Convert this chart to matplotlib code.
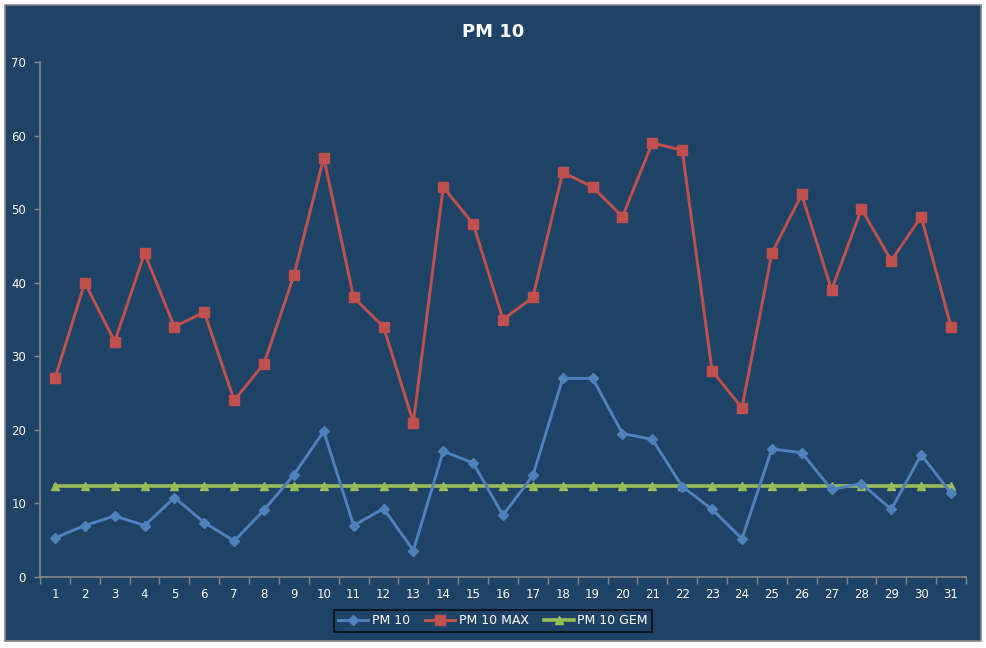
import matplotlib
matplotlib.use("Agg")
import matplotlib.pyplot as plt
from matplotlib.patches import Rectangle
from matplotlib.ticker import MultipleLocator, FixedLocator


days = list(range(1, 32))
pm10 = [5.3, 7.0, 8.3, 7.0, 10.8, 7.4, 4.9, 9.1, 13.9, 19.8,
        7.0, 9.3, 3.6, 17.1, 15.5, 8.4, 13.8, 27.0, 27.0, 19.5,
        18.7, 12.3, 9.2, 5.2, 17.4, 16.9, 11.9, 12.7, 9.2, 16.6, 11.4]
pm10_max = [27, 40, 32, 44, 34, 36, 24, 29, 41, 57,
            38, 34, 21, 53, 48, 35, 38, 55, 53, 49,
            59, 58, 28, 23, 44, 52, 39, 50, 43, 49, 34]
pm10_gem = [12.4] * 31

bg = "#1f4366"
axis_grey = "#868686"

fig = plt.figure(figsize=(9.87, 6.48), dpi=100)
fig.patch.set_facecolor("white")
# dark chart area with a grey border, behind the axes
frame = Rectangle((5 / 987, 7 / 648), 976 / 987, 636 / 648,
                  transform=fig.transFigure, facecolor=bg,
                  edgecolor=axis_grey, linewidth=1.2, zorder=-10)
fig.add_artist(frame)

ax = fig.add_axes([40 / 987, 1 - 577 / 648, 926 / 987, 515 / 648])
ax.set_facecolor(bg)
ax.set_zorder(1)

ax.plot(days, pm10, color="#4f81bd", linewidth=2.1, marker="D", markersize=5,
        label="PM 10", zorder=3)
ax.plot(days, pm10_max, color="#c0504d", linewidth=2.1, marker="s", markersize=7,
        label="PM 10 MAX", zorder=3)
ax.plot(days, pm10_gem, color="#9bbb59", linewidth=2.6, marker="^", markersize=6,
        label="PM 10 GEM", zorder=2)

ax.set_xlim(0.5, 31.5)
ax.set_ylim(0, 70)
ax.yaxis.set_major_locator(MultipleLocator(10))
ax.xaxis.set_major_locator(FixedLocator(days))
ax.xaxis.set_minor_locator(FixedLocator([d + 0.5 for d in range(0, 32)]))

for side in ["top", "right"]:
    ax.spines[side].set_visible(False)
for side in ["left", "bottom"]:
    ax.spines[side].set_color(axis_grey)
    ax.spines[side].set_linewidth(1.2)

ax.tick_params(axis="x", which="major", length=0, pad=8, labelsize=8.5, labelcolor="white")
ax.tick_params(axis="x", which="minor", length=5, color=axis_grey, width=1)
ax.tick_params(axis="y", which="major", length=4, color=axis_grey, width=1,
               pad=6, labelsize=8.5, labelcolor="white")

fig.text(0.5, 1 - 32 / 648, "PM 10", ha="center", va="center", color="white",
         fontsize=13, fontweight="bold")

leg = fig.legend(loc="center", bbox_to_anchor=(493 / 987, 1 - 621 / 648), ncol=3,
                 frameon=True, fontsize=9, handlelength=2.4, columnspacing=1.2,
                 handletextpad=0.3, borderpad=0.35, fancybox=False)
leg.get_frame().set_facecolor(bg)
leg.get_frame().set_edgecolor("black")
leg.get_frame().set_linewidth(1.2)
for t in leg.get_texts():
    t.set_color("white")

fig.savefig("out.png", dpi=100, facecolor=fig.get_facecolor())
